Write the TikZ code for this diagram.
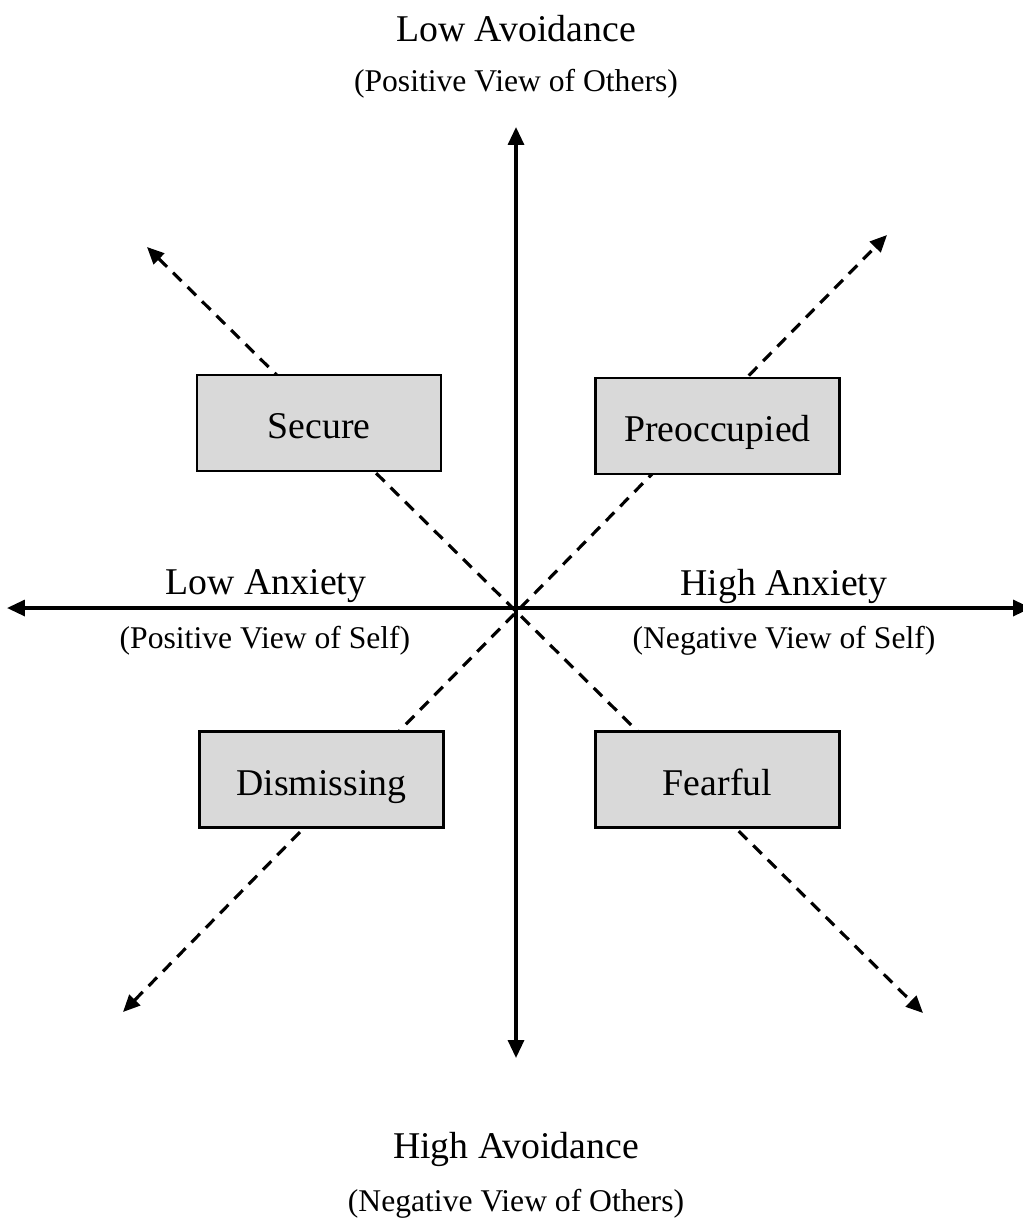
\documentclass[tikz,border=0pt]{standalone}
\usepackage{fontspec}
\setmainfont{Liberation Serif}
\usetikzlibrary{arrows.meta}

\definecolor{boxgray}{RGB}{217,217,217}
\def\bigfont{\fontsize{21.5}{25}\selectfont}
\def\smallfont{\fontsize{18}{22}\selectfont}
\tikzstyle{style} = [rectangle,
minimum width=4.88cm,
minimum height=1.92cm,
text centered,
text height=20pt,
text depth=2pt,
draw=black,
line width=1.2pt,
fill=boxgray,
font=\bigfont]
\tikzstyle{axis} = [line width=1.9pt,
{Triangle[length=0.36cm,width=0.32cm]}-{Triangle[length=0.36cm,width=0.32cm]}]
\tikzstyle{diag} = [line width=1.8pt,
dash pattern=on 6.8pt off 4.8pt,
{Triangle[length=0.34cm,width=0.3cm]}-{Triangle[length=0.34cm,width=0.3cm]}]
\tikzstyle{title} = [font=\bigfont, inner sep=0pt]
\tikzstyle{sub} = [font=\smallfont, inner sep=0pt]

\begin{document}
\begin{tikzpicture}[x=0.02cm, y=-0.02cm]
    \useasboundingbox (0,0) rectangle (1022,1224);
    %%%%%%%%%%%%%%%%%%%%%%%%%%%%%%%%%%%%%%%%
    % Axes
    %%%%%%%%%%%%%%%%%%%%%%%%%%%%%%%%%%%%%%%%
    \coordinate (o) at (516,609);
    \coordinate (top) at (516,127);
    \coordinate (bottom) at (516,1058);
    \coordinate (left) at (7,608);
    \coordinate (right) at (1031,608);
    \coordinate (nw) at (147,247);
    \coordinate (se) at (923,1013);
    \coordinate (ne) at (887,235);
    \coordinate (sw) at (123,1012);
    \draw [diag] (nw) -- (se);
    \draw [diag] (sw) -- (ne);
    \draw [axis] (top) -- (bottom);
    \draw [axis] (left) -- (right);
    %%%%%%%%%%%%%%%%%%%%%%%%%%%%%%%%%%%%%%%%
    % Styles
    %%%%%%%%%%%%%%%%%%%%%%%%%%%%%%%%%%%%%%%%
    \node (secure) [style] at (319,423) {Secure};
    \node (preocc) [style] at (717.5,426) {Preoccupied};
    \node (dismiss) [style] at (321.5,779.5) {Dismissing};
    \node (fearful) [style] at (717.5,779.5) {Fearful};
    %%%%%%%%%%%%%%%%%%%%%%%%%%%%%%%%%%%%%%%%
    % Labels
    %%%%%%%%%%%%%%%%%%%%%%%%%%%%%%%%%%%%%%%%
    \node (lowavoid) [title] at (516,29) {Low Avoidance};
    \node (posothers) [sub] at (516,84) {(Positive View of Others)};
    \node (lowanx) [title] at (266,586) {Low Anxiety};
    \node (posself) [sub] at (265,641) {(Positive View of Self)};
    \node (highanx) [title] at (784,586) {High Anxiety};
    \node (negself) [sub] at (784,641) {(Negative View of Self)};
    \node (highavoid) [title] at (516,1149) {High Avoidance};
    \node (negothers) [sub] at (516,1204) {(Negative View of Others)};
\end{tikzpicture}
\end{document}
